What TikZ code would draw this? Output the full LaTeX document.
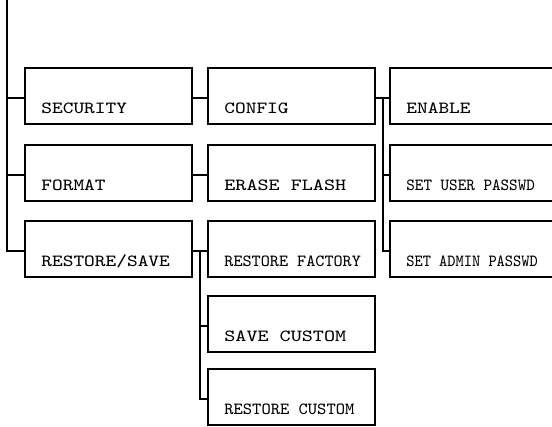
\documentclass[tikz,border=0pt]{standalone}
\usepackage{graphicx}
\usetikzlibrary{positioning, calc}
\newcommand{\squeeze}[2]{\scalebox{#1}[1]{#2}} % sets the width of a label
\tikzset{
    menu/.style={draw, line width=1pt, minimum width=83.5pt, minimum height=28pt, inner sep=0pt, outer sep=0pt}, % sets the look of each menu box
    boxtext/.style={font=\ttfamily\fontsize{8.5}{10}\selectfont, anchor=base west, inner sep=0pt, xshift=8pt, yshift=5.25pt}, % puts the text in the lower left corner
    wire/.style={line width=1pt}, % lines between the boxes
    node distance=10pt and 8pt, % gap between two boxes
}
\begin{document}
\begin{tikzpicture}[x=0.5pt, y=-0.5pt]
                            \useasboundingbox (0,0) rectangle (552,427);
                            \node[menu, anchor=north west, label={[boxtext]south west:{\squeeze{1.2}{SECURITY}}}] (sec) at (25,68) {};
                            \node[menu, below=10.5pt of sec, label={[boxtext]south west:{\squeeze{1.2}{FORMAT}}}] (fmt) {};
                            \node[menu, below=of fmt, label={[boxtext]south west:{\squeeze{1.2}{RESTORE/SAVE}}}] (rs) {};
                            \node[menu, right=of sec, label={[boxtext]south west:{\squeeze{1.2}{CONFIG}}}] (cfg) {};
                            \node[menu, right=of fmt, label={[boxtext]south west:{\squeeze{1.24}{ERASE FLASH}}}] (ers) {};
                            \node[menu, right=of rs, label={[boxtext]south west:{\squeeze{1.02}{RESTORE FACTORY}}}] (rfac) {};
                            \node[menu, below=9.5pt of rfac, label={[boxtext]south west:{\squeeze{1.24}{SAVE CUSTOM}}}] (scus) {};
                            \node[menu, below=8.75pt of scus, label={[boxtext]south west:{\squeeze{1.04}{RESTORE CUSTOM}}}] (rcus) {};
                            \node[menu, right=7.5pt of cfg, label={[boxtext]south west:{\squeeze{1.2}{ENABLE}}}] (enb) {};
                            \node[menu, right=7.5pt of ers, label={[boxtext]south west:{\squeeze{0.96}{SET USER PASSWD}}}] (usr) {};
                            \node[menu, right=7.5pt of rfac, label={[boxtext]south west:{\squeeze{0.92}{SET ADMIN PASSWD}}}] (adm) {};
                            \coordinate (top) at (7,0);
                            \coordinate (rsfork) at ($([yshift=-1pt]rs.east)!0.5!([yshift=-1pt]rfac.west)$);
                            \coordinate (cfgfork) at ($([yshift=-1pt]cfg.east)!0.5!([yshift=-1pt]enb.west)$);
                            \draw[wire]
                            (top) |- ([yshift=-1pt]rs.west)
                            ([yshift=-1pt]sec.west) -| (top)
                            ([yshift=-1pt]fmt.west) -| (top)
                            ([yshift=-1pt]sec.east) -- ([yshift=-1pt]cfg.west)
                            ([yshift=-1pt]fmt.east) -- ([yshift=-1pt]ers.west)
                            ([yshift=-1pt]rs.east) -- ([yshift=-1pt]rfac.west)
                            (rsfork) |- ([yshift=-1pt]scus.west)
                            (rsfork) |- ([yshift=-1pt]rcus.west)
                            ([yshift=-1pt]cfg.east) -- ([yshift=-1pt]enb.west)
                            (cfgfork) |- ([yshift=-1pt]usr.west)
                            (cfgfork) |- ([yshift=-1pt]adm.west);
                        \end{tikzpicture}
\end{document}
